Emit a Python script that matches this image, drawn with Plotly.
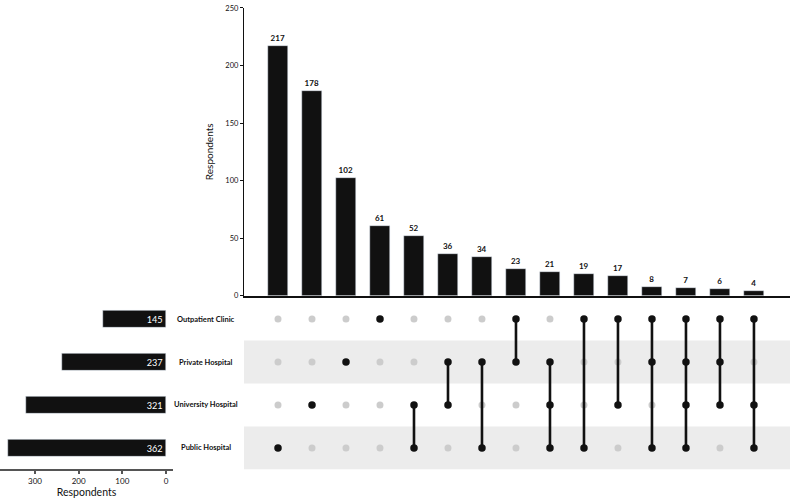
import plotly.graph_objects as go

categories = ["Outpatient Clinic", "Private Hospital", "University Hospital", "Public Hospital"]
set_sizes = [145, 237, 321, 362]

intersections = [
    ["Public Hospital"],
    ["University Hospital"],
    ["Private Hospital"],
    ["Outpatient Clinic"],
    ["University Hospital", "Public Hospital"],
    ["Private Hospital", "University Hospital"],
    ["Private Hospital", "Public Hospital"],
    ["Outpatient Clinic", "Private Hospital"],
    ["Private Hospital", "University Hospital", "Public Hospital"],
    ["Outpatient Clinic", "Public Hospital"],
    ["Outpatient Clinic", "University Hospital"],
    ["Outpatient Clinic", "Private Hospital", "Public Hospital"],
    ["Outpatient Clinic", "Private Hospital", "University Hospital", "Public Hospital"],
    ["Outpatient Clinic", "Private Hospital", "University Hospital"],
    ["Outpatient Clinic", "University Hospital", "Public Hospital"],
]
intersection_counts = [217, 178, 102, 61, 52, 36, 34, 23, 21, 19, 17, 8, 7, 6, 4]

W, H = 790, 498
FONT = "Lato"
n = len(intersection_counts)
cols = list(range(n))
row_of = {c: len(categories) - 1 - i for i, c in enumerate(categories)}  # Outpatient top

fig = go.Figure()

# Top intersection bars
fig.add_trace(go.Bar(
    x=cols, y=intersection_counts, width=0.59, marker_color="#111111",
    text=[str(v) for v in intersection_counts], textposition="outside",
    textfont=dict(family=FONT, size=8, color="#111111", weight="bold"),
    cliponaxis=False, xaxis="x", yaxis="y", showlegend=False, hoverinfo="skip"))

# Matrix: inactive dots
gx, gy, bx, by = [], [], [], []
for j, combo in enumerate(intersections):
    for c in categories:
        if c in combo:
            bx.append(j); by.append(row_of[c])
        else:
            gx.append(j); gy.append(row_of[c])
fig.add_trace(go.Scatter(x=gx, y=gy, mode="markers",
                         marker=dict(color="#cccccc", size=7),
                         xaxis="x2", yaxis="y2", showlegend=False, hoverinfo="skip"))
# connecting lines
for j, combo in enumerate(intersections):
    rows = [row_of[c] for c in combo]
    if len(rows) > 1:
        fig.add_trace(go.Scatter(x=[j, j], y=[min(rows), max(rows)], mode="lines",
                                 line=dict(color="#111111", width=2.6),
                                 xaxis="x2", yaxis="y2", showlegend=False, hoverinfo="skip"))
fig.add_trace(go.Scatter(x=bx, y=by, mode="markers",
                         marker=dict(color="#111111", size=7.5),
                         xaxis="x2", yaxis="y2", showlegend=False, hoverinfo="skip"))

# Left set-size bars
fig.add_trace(go.Bar(
    y=[row_of[c] for c in categories], x=set_sizes, orientation="h", width=0.41,
    marker_color="#111111", text=[str(v) for v in set_sizes],
    textposition="inside", insidetextanchor="start",
    textfont=dict(family=FONT, size=10, color="white"),
    xaxis="x3", yaxis="y3", showlegend=False, hoverinfo="skip"))

xdom = [244 / W, 1]
top_dom = [1 - 297 / H, 1 - 4 / H]
mat_dom = [1 - 474 / H, 1 - 299 / H]
xr = [-1.0, 15.06]

shapes = []
for c in ["Private Hospital", "Public Hospital"]:
    r = row_of[c]
    shapes.append(dict(type="rect", xref="paper", yref="y2", x0=xdom[0], x1=1,
                       y0=r - 0.5, y1=r + 0.5, fillcolor="#ececec", line_width=0,
                       layer="below"))

annotations = []
for c in categories:
    annotations.append(dict(text=c, x=206 / W, xref="paper", y=row_of[c], yref="y2",
                            showarrow=False, xanchor="center",
                            font=dict(family=FONT, size=7.5, color="#111111", weight="bold")))

fig.update_layout(
    width=W, height=H, margin=dict(l=0, r=0, t=0, b=0),
    paper_bgcolor="white", plot_bgcolor="rgba(0,0,0,0)",
    font=dict(family=FONT, color="#111111"),
    bargap=0,
    xaxis=dict(domain=xdom, range=xr, showticklabels=False, ticks="", showgrid=False,
               zeroline=False, showline=True, linecolor="#111111", linewidth=2,
               anchor="y"),
    yaxis=dict(domain=top_dom, range=[0, 250], tickvals=[0, 50, 100, 150, 200, 250],
               ticks="outside", ticklen=3, tickwidth=1.3, tickcolor="#111111",
               ticklabeloverflow="allow",
               showgrid=False, zeroline=False, showline=True, linecolor="#111111",
               linewidth=1.3, tickfont=dict(family=FONT, size=7.5),
               title=dict(text="Respondents", font=dict(family=FONT, size=10), standoff=9),
               anchor="x"),
    xaxis2=dict(domain=xdom, range=xr, visible=False, anchor="y2"),
    yaxis2=dict(domain=mat_dom, range=[-0.5, 3.5], visible=False, anchor="x2"),
    xaxis3=dict(domain=[0, 173 / W], range=[380, -16], tickvals=[0, 100, 200, 300],
                ticks="outside", ticklen=3, tickwidth=1.5, tickcolor="#555555",
                showgrid=False, zeroline=False, showline=True, linecolor="#555555",
                linewidth=2, tickfont=dict(family=FONT, size=8),
                title=dict(text="Respondents", font=dict(family=FONT, size=10.5), standoff=2),
                anchor="y3"),
    yaxis3=dict(domain=mat_dom, range=[-0.5, 3.5], visible=False, anchor="x3"),
    shapes=shapes, annotations=annotations,
)

fig.write_html("out.html")
